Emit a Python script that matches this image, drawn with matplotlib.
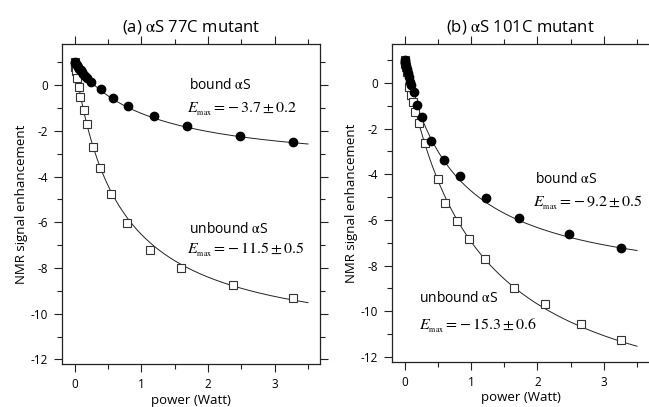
import numpy as np
import matplotlib
matplotlib.use('Agg')
import matplotlib.pyplot as plt
from matplotlib.ticker import MultipleLocator

plt.rcParams['font.family'] = ['Open Sans', 'DejaVu Sans']
plt.rcParams['mathtext.fontset'] = 'stix'
plt.rcParams['axes.unicode_minus'] = False

#
# Data
#

# (a) aS 77C mutant
a_bound_power = [0, 0.01, 0.02, 0.035, 0.05, 0.07, 0.09, 0.11, 0.13, 0.16, 0.19,
                 0.24, 0.40, 0.57, 0.80, 1.19, 1.68, 2.48, 3.27]
a_bound_enh = [1.0, 0.96, 0.92, 0.86, 0.80, 0.72, 0.65, 0.57, 0.50, 0.41, 0.32,
               0.15, -0.18, -0.55, -0.92, -1.34, -1.80, -2.23, -2.51]
a_unbound_power = [0, 0.005, 0.01, 0.02, 0.035, 0.06, 0.08, 0.14, 0.185, 0.275,
                   0.38, 0.55, 0.78, 1.13, 1.59, 2.37, 3.27]
a_unbound_enh = [1.0, 0.90, 0.80, 0.62, 0.30, -0.10, -0.51, -1.07, -1.71, -2.70,
                 -3.61, -4.77, -6.03, -7.23, -8.00, -8.76, -9.30]

# (b) aS 101C mutant
b_bound_power = [0, 0.005, 0.01, 0.02, 0.03, 0.045, 0.06, 0.08, 0.10, 0.14, 0.19,
                 0.26, 0.40, 0.60, 0.83, 1.22, 1.72, 2.48, 3.26]
b_bound_enh = [1.0, 0.94, 0.87, 0.75, 0.62, 0.44, 0.27, 0.05, -0.09, -0.39, -0.96,
               -1.47, -2.53, -3.39, -4.07, -5.05, -5.90, -6.61, -7.24]
b_unbound_power = [0, 0.005, 0.01, 0.02, 0.035, 0.065, 0.10, 0.13, 0.16, 0.22,
                   0.31, 0.50, 0.61, 0.79, 0.97, 1.21, 1.65, 2.11, 2.66, 3.26]
b_unbound_enh = [1.0, 0.92, 0.85, 0.69, 0.46, -0.16, -0.53, -0.85, -1.26, -1.74,
                 -2.64, -4.22, -5.24, -6.03, -6.85, -7.72, -8.99, -9.70, -10.56, -11.26]

# fit parameters (E_max from the labels, P_1/2 estimated)
a_bound_fit = (-3.7, 1.10)
a_unbound_fit = (-11.5, 0.66)
b_bound_fit = (-9.2, 0.78)
b_unbound_fit = (-15.3, 1.05)

a_labels = ('(a) $\\mathrm{\\alpha}$S 77C mutant', '-3.7', '0.2', '-11.5', '0.5')
b_labels = ('(b) $\\mathrm{\\alpha}$S 101C mutant', '-9.2', '0.5', '-15.3', '0.6')

ALPHA_S = '$\\mathrm{\\alpha}$S'


def dnp_curve(p, fit):
    emax, p_half = fit
    return 1 + (emax - 1) * p / (p + p_half)


def emax_text(value, err):
    return '$E_{_{\\mathrm{max}}} = %s \\pm %s$' % (value.replace('-', '-\\,'), err)


def style_axis(ax, ylim, right_spine=True):
    ax.set_xlim(-0.19, 3.68)
    ax.set_ylim(*ylim)
    ax.xaxis.set_major_locator(MultipleLocator(1))
    ax.xaxis.set_minor_locator(MultipleLocator(0.5))
    ax.yaxis.set_major_locator(MultipleLocator(2))
    ax.yaxis.set_minor_locator(MultipleLocator(1))
    ax.tick_params(which='both', direction='out', top=True, right=right_spine,
                   width=0.8, color='#222222', labelsize=8.5)
    ax.tick_params(which='major', length=6, pad=4)
    ax.tick_params(which='minor', length=3.5)
    for s in ax.spines.values():
        s.set_linewidth(0.9)
        s.set_color('#222222')
    if not right_spine:
        ax.spines['right'].set_visible(False)
    ax.set_xlabel('power (Watt)', fontsize=9.5, labelpad=2)
    ax.set_ylabel('NMR signal enhancement', fontsize=9.5, labelpad=2)


def plot_panel(ax, bound, unbound, fits):
    p_line = np.linspace(0, 3.5, 300)
    for (p, e), fit in zip((bound, unbound), fits):
        ax.plot(p_line, dnp_curve(p_line, fit), color='#222222', lw=0.7, zorder=1)
    ax.plot(*unbound, 's', ms=5.5, mfc='white', mec='#333333', mew=0.8, zorder=2)
    ax.plot(*bound, 'o', ms=6, color='black', zorder=3)


fig = plt.figure(figsize=(6.49, 4.07), dpi=100)

ax_a = fig.add_axes([0.0955, 0.1057, 0.3975, 0.7863])
plot_panel(ax_a, (a_bound_power, a_bound_enh), (a_unbound_power, a_unbound_enh),
           (a_bound_fit, a_unbound_fit))
style_axis(ax_a, (-12.2, 1.8))
ax_a.set_title(a_labels[0], fontsize=12, pad=9)
ax_a.text(1.71, 0.0, 'bound ' + ALPHA_S, fontsize=10, va='center')
ax_a.text(1.69, -1.05, emax_text(a_labels[1], a_labels[2]), fontsize=11.5, va='center')
ax_a.text(1.71, -6.3, 'unbound ' + ALPHA_S, fontsize=10, va='center')
ax_a.text(1.69, -7.2, emax_text(a_labels[3], a_labels[4]), fontsize=11.5, va='center')

ax_b = fig.add_axes([0.604, 0.111, 0.396, 0.781])
plot_panel(ax_b, (b_bound_power, b_bound_enh), (b_unbound_power, b_unbound_enh),
           (b_bound_fit, b_unbound_fit))
style_axis(ax_b, (-12.22, 1.71), right_spine=False)
ax_b.set_title(b_labels[0], fontsize=12, pad=9)
ax_b.text(1.97, -4.25, 'bound ' + ALPHA_S, fontsize=10, va='center')
ax_b.text(1.93, -5.26, emax_text(b_labels[1], b_labels[2]), fontsize=11.5, va='center')
ax_b.text(0.21, -9.46, 'unbound ' + ALPHA_S, fontsize=10, va='center')
ax_b.text(0.21, -10.64, emax_text(b_labels[3], b_labels[4]), fontsize=11.5, va='center')

plt.savefig('out.png', dpi=100)
